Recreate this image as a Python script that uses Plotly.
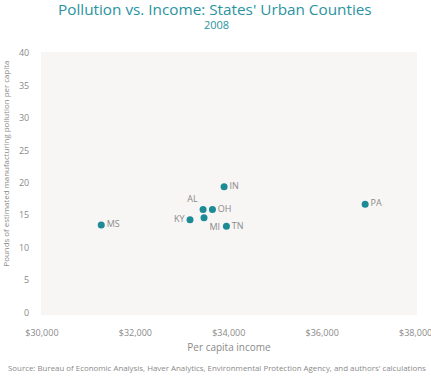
import plotly.graph_objects as go

states = ["MS", "KY", "AL", "MI", "OH", "IN", "TN", "PA"]
income = [31270, 33170, 33450, 33470, 33650, 33900, 33950, 36920]
pollution = [13.5, 14.3, 15.9, 14.6, 15.9, 19.4, 13.3, 16.7]
label_pos = ["middle right", "middle left", "top left", "bottom right",
             "middle right", "middle right", "middle right", "middle right"]
x_ticks = [30000, 32000, 34000, 36000, 38000]
x_tick_labels = ["$30,000", "$32,000", "$34,000", "$36,000", "$38,000"]
y_ticks = [0, 5, 10, 15, 20, 25, 30, 35, 40]

teal = "#1c8b96"
gray = "#8a8a8a"
font = "Open Sans"

PW = 376.0  # plot width in px
PH = 263.0  # plot height in px
def px(pix):
    return (pix - 41) / PW
def py(pix):
    return (315 - pix) / PH

fig = go.Figure()
fig.add_trace(go.Scatter(
    x=income, y=pollution, mode="markers+text", text=states,
    textposition=label_pos,
    textfont=dict(family=font, size=9, color=gray),
    marker=dict(color=teal, size=7),
    hoverinfo="skip", showlegend=False,
))

fig.update_layout(
    width=431, height=384,
    margin=dict(l=41, r=14, t=52, b=69),
    paper_bgcolor="white", plot_bgcolor="#f7f6f4",
    font=dict(family=font, color=gray),
    xaxis=dict(
        range=[29980, 38030], tickvals=x_ticks, ticktext=x_tick_labels,
        showgrid=False, zeroline=False, showline=False, automargin=False,
        ticklabeloverflow="allow",
        ticks="outside", ticklen=9, tickcolor="rgba(0,0,0,0)",
        tickfont=dict(family=font, size=9, color=gray),
        title=dict(text="Per capita income", font=dict(family=font, size=10, color=gray), standoff=6),
    ),
    yaxis=dict(
        range=[-0.4, 40.2], tickvals=y_ticks,
        showgrid=False, zeroline=False, showline=False, automargin=False,
        ticks="outside", ticklen=9, tickcolor="rgba(0,0,0,0)",
        tickfont=dict(family=font, size=9, color=gray),
    ),
)

fig.add_annotation(
    text="Pounds of estimated manufacturing pollution per capita",
    xref="paper", yref="paper", x=px(5.5), y=py(164), textangle=-90,
    xanchor="center", yanchor="middle", showarrow=False,
    font=dict(family=font, size=7.9, color=gray),
)
fig.add_annotation(
    text="Pollution vs. Income: States' Urban Counties",
    xref="paper", yref="paper", x=px(215), y=py(9),
    xanchor="center", yanchor="middle", showarrow=False,
    font=dict(family=font, size=15.3, color="#2a93a0"),
)
fig.add_annotation(
    text="2008",
    xref="paper", yref="paper", x=px(216), y=py(24.5),
    xanchor="center", yanchor="middle", showarrow=False,
    font=dict(family=font, size=11, color="#2a93a0"),
)
fig.add_annotation(
    text="Source: Bureau of Economic Analysis, Haver Analytics, Environmental Protection Agency, and authors' calculations",
    xref="paper", yref="paper", x=px(217), y=py(368), xanchor="center", yanchor="middle",
    showarrow=False, font=dict(family=font, size=7.9, color=gray),
)

fig.write_html("out.html", config={"displayModeBar": False},
               post_script="document.body.style.margin='0px';")
